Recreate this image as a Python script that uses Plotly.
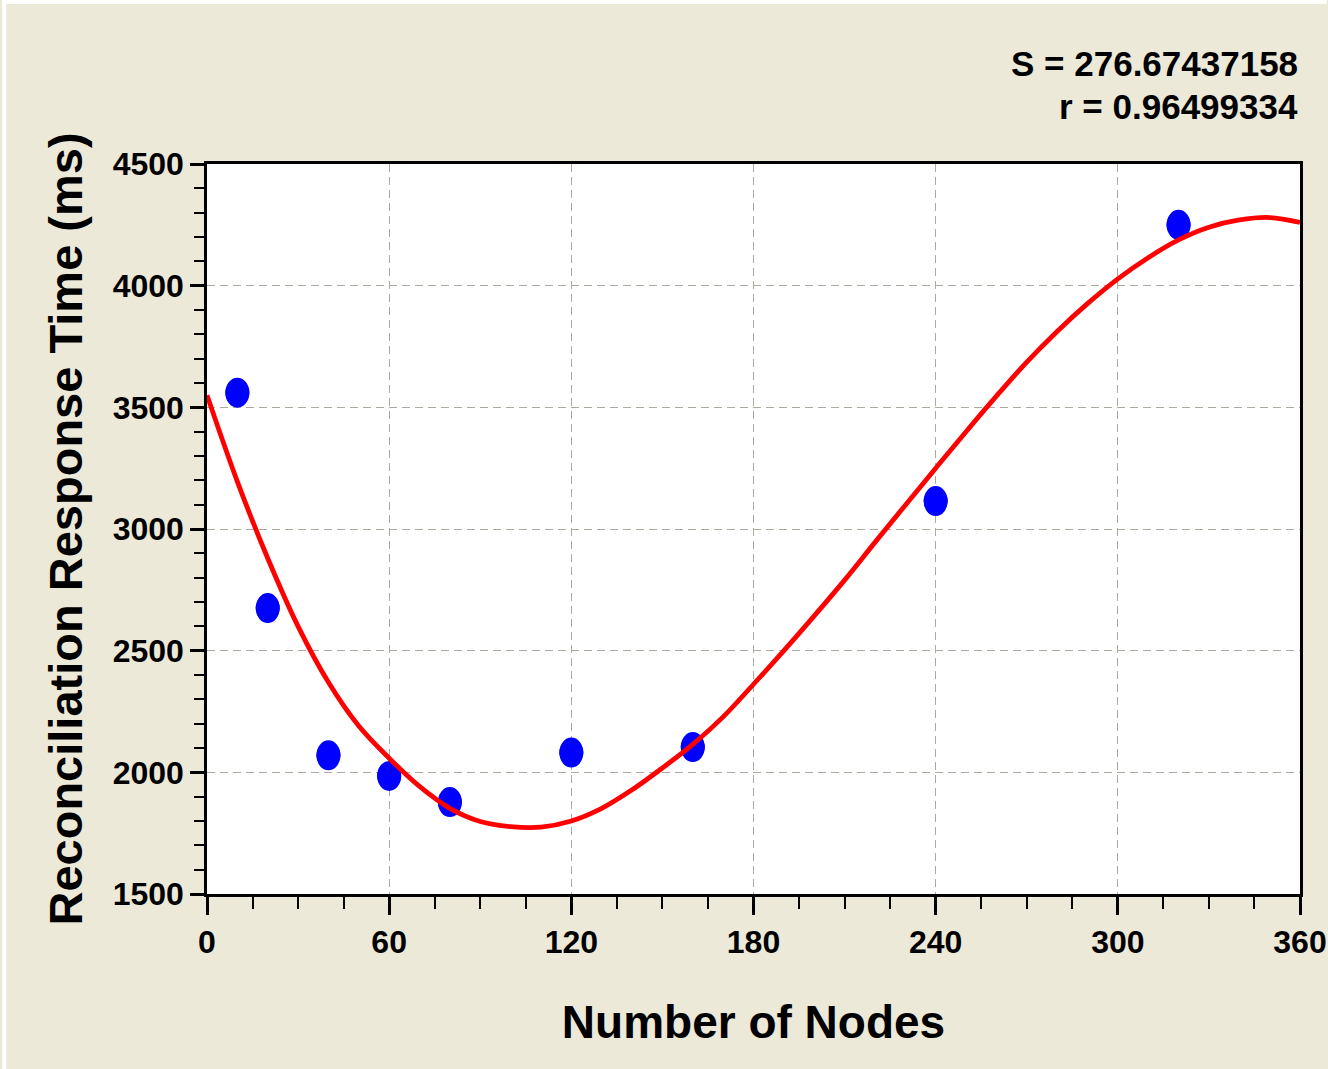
import plotly.graph_objects as go

# ---- data ----
nodes = [10, 20, 40, 60, 80, 120, 160, 240, 320]
response_ms = [3560, 2675, 2070, 1985, 1878, 2081, 2104, 3115, 4250]

fit_x = [0, 10, 20, 30, 40, 50, 60, 70, 80, 90, 100, 110, 120, 130, 140, 150,
         160, 170, 180, 190, 200, 210, 220, 230, 240, 250, 260, 270, 280, 290,
         300, 310, 320, 330, 340, 350, 360]
fit_y = [3550, 3195, 2880, 2600, 2370, 2190, 2058, 1942, 1852, 1798, 1777, 1775,
         1800, 1852, 1928, 2018, 2115, 2228, 2362, 2500, 2643, 2790, 2945, 3098,
         3250, 3400, 3546, 3686, 3812, 3926, 4028, 4115, 4188, 4240, 4270, 4280, 4260]

x_ticks = [0, 60, 120, 180, 240, 300, 360]
y_ticks = [1500, 2000, 2500, 3000, 3500, 4000, 4500]

stat_lines = ["S = 276.67437158", "r = 0.96499334"]

BEIGE = "#ECE9D8"
GRID = "#ADA99F"
FONT = "Liberation Sans"

fig = go.Figure()

# data points (circle core)
fig.add_trace(go.Scatter(
    x=nodes, y=response_ms, mode="markers",
    marker=dict(color="#0000FF", size=24, line=dict(width=0)),
    showlegend=False, hoverinfo="x+y"))

# fitted curve
fig.add_trace(go.Scatter(
    x=fit_x, y=fit_y, mode="lines",
    line=dict(color="#FF0000", width=4.8, shape="spline"),
    showlegend=False, hoverinfo="skip"))

# elliptical markers (slightly taller than wide, as in the reference)
shapes = []
for xv, yv in zip(nodes, response_ms):
    shapes.append(dict(
        type="circle", xref="x", yref="y",
        xsizemode="pixel", ysizemode="pixel",
        xanchor=xv, yanchor=yv,
        x0=-12, x1=12, y0=-15, y1=15,
        fillcolor="#0000FF", line=dict(width=0),
        layer="between"))

# white strips on top and left edge of the image
L, R, T, B = 207, 27, 164, 175
W, H = 1339, 1069
pw, ph = W - L - R, H - T - B
shapes.append(dict(type="rect", xref="paper", yref="paper",
                   x0=-L / pw, x1=(W - L) / pw,
                   y0=1 + (T - 4) / ph, y1=1 + T / ph,
                   fillcolor="white", line=dict(width=0), layer="below"))
shapes.append(dict(type="rect", xref="paper", yref="paper",
                   x0=-L / pw, x1=(4 - L) / pw,
                   y0=-B / ph, y1=1 + T / ph,
                   fillcolor="white", line=dict(width=0), layer="below"))

annotations = []
for i, txt in enumerate(stat_lines):
    annotations.append(dict(
        text=txt, xref="paper", yref="paper", x=1, y=1,
        xanchor="right", yanchor="middle", showarrow=False,
        yshift=[101, 58][i],
        font=dict(family=FONT, size=35, color="black", weight="bold")))

fig.update_layout(
    width=W, height=H, autosize=False,
    margin=dict(l=L, r=R, t=T, b=B, pad=0),
    paper_bgcolor=BEIGE, plot_bgcolor="white",
    shapes=shapes, annotations=annotations,
    showlegend=False,
    xaxis=dict(
        range=[0, 360], tickvals=x_ticks, ticktext=[str(v) for v in x_ticks],
        showline=True, linecolor="black", linewidth=3, mirror=True,
        ticks="outside", ticklen=18, tickwidth=3, tickcolor="black",
        showgrid=True, gridcolor=GRID, gridwidth=1, griddash="8px,5px",
        zeroline=False,
        minor=dict(dtick=15, tick0=0, ticks="outside", ticklen=12, tickwidth=2,
                   tickcolor="black", showgrid=False),
        tickfont=dict(family=FONT, size=32, color="black", weight="bold"),
        title=dict(text="Number of Nodes", standoff=47,
                   font=dict(family=FONT, size=46, color="black", weight="bold")),
    ),
    yaxis=dict(
        range=[1500, 4500], tickvals=y_ticks, ticktext=[str(v) for v in y_ticks],
        showline=True, linecolor="black", linewidth=2.5, mirror=True,
        ticks="outside", ticklen=14, tickwidth=3, tickcolor="black",
        showgrid=True, gridcolor=GRID, gridwidth=1, griddash="8px,5px",
        zeroline=False,
        minor=dict(dtick=100, tick0=1500, ticks="outside", ticklen=10, tickwidth=2,
                   tickcolor="black", showgrid=False),
        tickfont=dict(family=FONT, size=32, color="black", weight="bold"),
        title=dict(text="Reconciliation Response Time (ms)", standoff=16,
                   font=dict(family=FONT, size=47, color="black", weight="bold")),
    ),
)

fig.write_html("out.html", config={"responsive": False})
